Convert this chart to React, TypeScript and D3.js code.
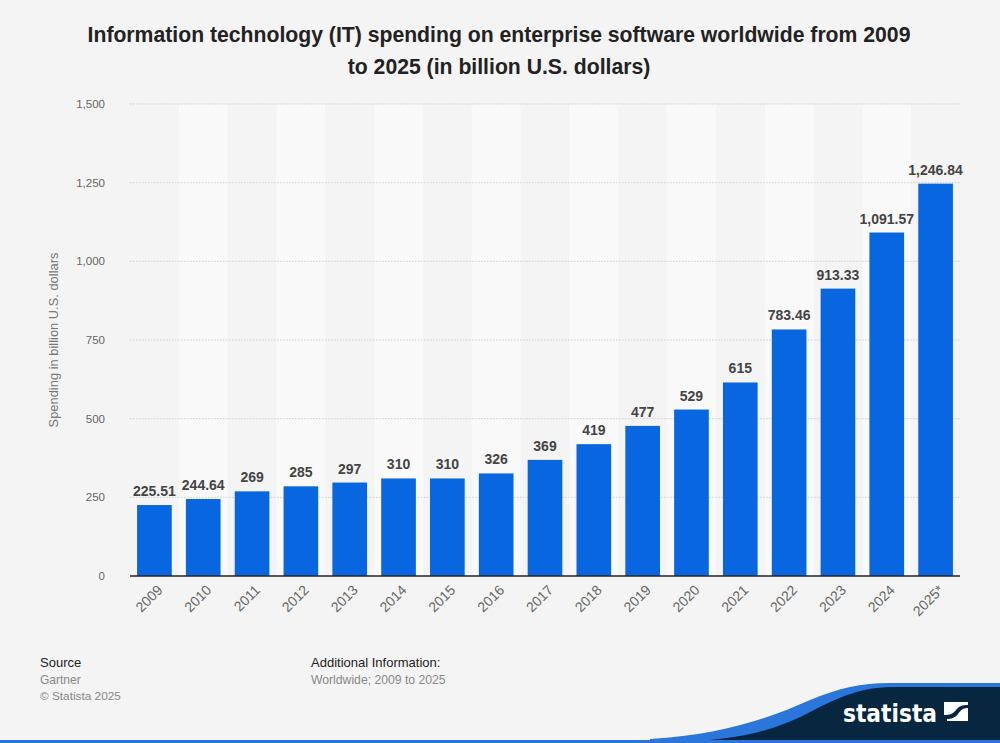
import React from "react";
import * as d3 from "d3";

const categories = ["2009","2010","2011","2012","2013","2014","2015","2016","2017","2018","2019","2020","2021","2022","2023","2024","2025*"];
const values = [225.51,244.64,269,285,297,310,310,326,369,419,477,529,615,783.46,913.33,1091.57,1246.84];
const labels = ["225.51","244.64","269","285","297","310","310","326","369","419","477","529","615","783.46","913.33","1,091.57","1,246.84"];
const yTicks = [0,250,500,750,1000,1250,1500];

const W = 1000, H = 743;
const left = 130, right = 960, top = 104, bottom = 576;
const FONT = "'Liberation Sans', Arial, Helvetica, sans-serif";

export default function App() {
  const x = d3.scaleBand<string>().domain(categories).range([left, right]).paddingInner(0.29).paddingOuter(0.145);
  const xBand = d3.scaleBand<string>().domain(categories).range([left, right]);
  const y = d3.scaleLinear().domain([0, 1500]).range([bottom, top]);
  const fmt = d3.format(",");
  return (
    <svg width={W} height={H} style={{ position: "absolute", left: 0, top: 0, display: "block" }} fontFamily={FONT}>
      <rect x={0} y={0} width={W} height={H} fill="#f4f4f4" />
      {categories.map((c, i) => i % 2 === 1 ? (
        <rect key={"b" + c} x={xBand(c)} y={top} width={xBand.bandwidth()} height={bottom - top} fill="#f9f9f9" />
      ) : null)}
      <text x={499} y={42} textAnchor="middle" fontSize={21.2} fontWeight="bold" fill="#222">Information technology (IT) spending on enterprise software worldwide from 2009</text>
      <text x={499} y={74} textAnchor="middle" fontSize={21.2} fontWeight="bold" fill="#222">to 2025 (in billion U.S. dollars)</text>
      {yTicks.map(t => (
        <g key={t}>
          {t > 0 && <line x1={left} x2={right} y1={y(t)} y2={y(t)} stroke="#cfcfcf" strokeDasharray="1.5,1.5" />}
          <text x={105} y={y(t) + 4} textAnchor="end" fontSize={11.5} fill="#666">{fmt(t)}</text>
        </g>
      ))}
      <text transform={`translate(58,340) rotate(-90)`} textAnchor="middle" fontSize={12.9} fill="#777">Spending in billion U.S. dollars</text>
      {categories.map((c, i) => (
        <g key={c}>
          <rect x={x(c)} y={y(values[i])} width={x.bandwidth()} height={bottom - y(values[i])} fill="#0866e1" />
          <text x={x(c)! + x.bandwidth() / 2} y={y(values[i]) - 9} textAnchor="middle" fontSize={14} fontWeight="bold" fill="#444">{labels[i]}</text>
          <text transform={`translate(${x(c)! + x.bandwidth() / 2 + 9},${bottom + 15}) rotate(-45)`} textAnchor="end" fontSize={14} fill="#666">{c}</text>
        </g>
      ))}
      <line x1={left} x2={right} y1={bottom} y2={bottom} stroke="#222" strokeWidth={1.5} />
      <text x={40} y={667} fontSize={13} fill="#222">Source</text>
      <text x={40} y={684} fontSize={12} fill="#888">Gartner</text>
      <text x={40} y={700} fontSize={11.8} fill="#888">© Statista 2025</text>
      <text x={311} y={667} fontSize={13} fill="#222">Additional Information:</text>
      <text x={311} y={684} fontSize={12.2} fill="#888">Worldwide; 2009 to 2025</text>
      <path d="M650,741 L650,739 C720,735 770,718 810,700 C840,688 860,683 890,683 L1000,683 L1000,741 Z" fill="#2a76db" />
      <path d="M700,741 C750,737 780,728 810,712 C840,697 860,687 895,687 L1000,687 L1000,741 Z" fill="#072640" />
      <text x={843} y={722} fontSize={25} fontWeight="bold" fill="#fff" fontFamily="'DejaVu Sans', 'Open Sans', sans-serif" textLength={94} lengthAdjust="spacingAndGlyphs">statista</text>
      <g transform="translate(944,702)">
        <rect x={0} y={0} width={24} height={19} fill="#fff" />
        <path d="M0,19 L0,13 C6,13 9,12 12,8 C15,4 18,3 24,3 L24,6 C19,6 17,8 14,12 C11,16 7,17 3,17 L3,19 Z" fill="#072640" />
      </g>
      <rect x={0} y={740} width={W} height={3} fill="#2a76db" />
    </svg>
  );
}
